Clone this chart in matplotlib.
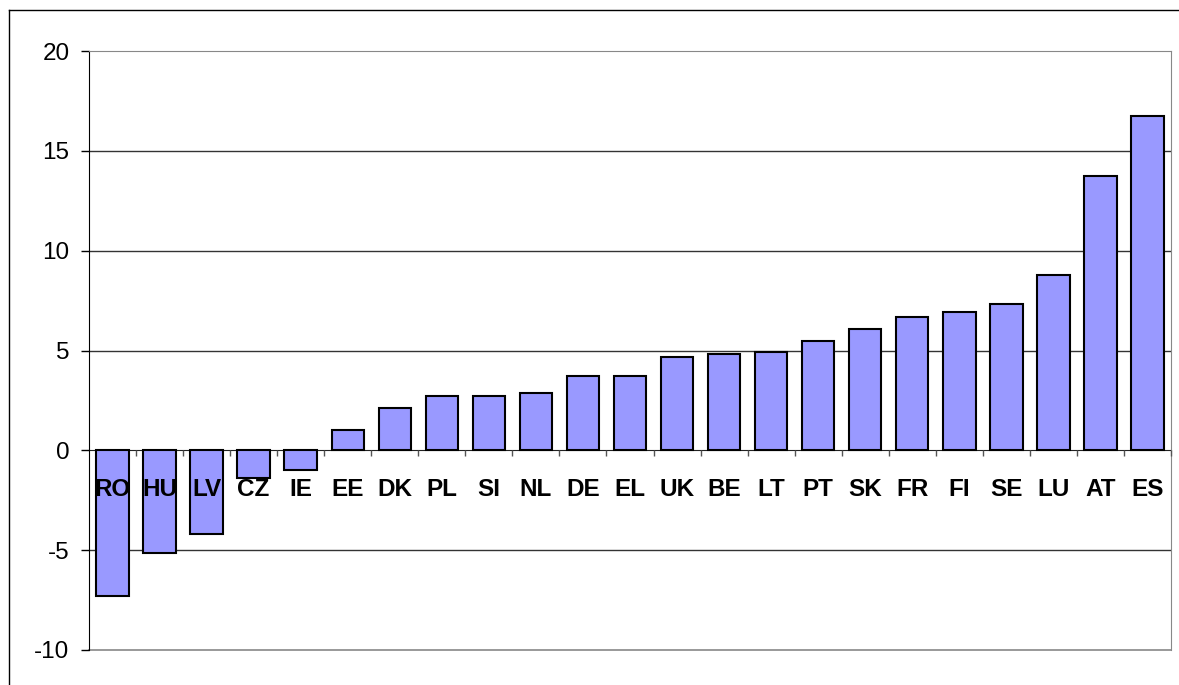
import matplotlib.pyplot as plt
from matplotlib.lines import Line2D
import numpy as np

countries = ["RO", "HU", "LV", "CZ", "IE", "EE", "DK", "PL", "SI", "NL", "DE", "EL",
             "UK", "BE", "LT", "PT", "SK", "FR", "FI", "SE", "LU", "AT", "ES"]
values = [-7.3, -5.15, -4.2, -1.4, -1.0, 1.0, 2.1, 2.7, 2.7, 2.85, 3.7, 3.7,
          4.65, 4.8, 4.9, 5.5, 6.1, 6.7, 6.95, 7.35, 8.8, 13.75, 16.75]
yticks = [-10, -5, 0, 5, 10, 15, 20]

plt.rcParams['font.family'] = ['Liberation Sans', 'DejaVu Sans']

fig = plt.figure(figsize=(11.79, 6.85), dpi=100)
ax = fig.add_axes([89 / 1179, 1 - 650 / 685, (1171 - 89) / 1179, (650 - 51) / 685])

x = np.arange(len(countries))
ax.bar(x, values, width=0.69, color="#9999FF", edgecolor="black", linewidth=1.5, zorder=3)

ax.set_xlim(-0.5, len(countries) - 0.5)
ax.set_ylim(-10, 20)

# grid
for v in [-5, 5, 10, 15]:
    ax.axhline(v, color="#333333", linewidth=1, zorder=1)
ax.axhline(-10, color="#888888", linewidth=1.2, zorder=1, clip_on=False)

# spines
ax.spines['bottom'].set_position(('data', 0))
ax.spines['bottom'].set_color('#222222')
ax.spines['bottom'].set_zorder(2)
ax.spines['top'].set_color('#888888')
ax.spines['right'].set_color('#888888')
ax.spines['left'].set_color('black')

ax.set_yticks(yticks)
ax.set_yticklabels([str(t) for t in yticks], fontsize=17.5)
ax.tick_params(axis='y', length=6, width=1, pad=8)

ax.set_xticks(x)
ax.set_xticklabels(countries, fontsize=17.5, fontweight='bold')
ax.tick_params(axis='x', which='major', length=0, pad=20)
ax.set_xticks(np.arange(1, len(countries) + 1) - 0.5, minor=True)
ax.tick_params(axis='x', which='minor', length=4.5, width=1, color='#555555')
ax.xaxis.set_zorder(5)

# outer chart border
fig.add_artist(Line2D([9.5 / 1179, 9.5 / 1179], [0, 1 - 9.5 / 685], color='black', linewidth=1,
                      transform=fig.transFigure))
fig.add_artist(Line2D([9.5 / 1179, 1], [1 - 9.5 / 685, 1 - 9.5 / 685], color='black', linewidth=1,
                      transform=fig.transFigure))

fig.savefig("out.png", dpi=100)
